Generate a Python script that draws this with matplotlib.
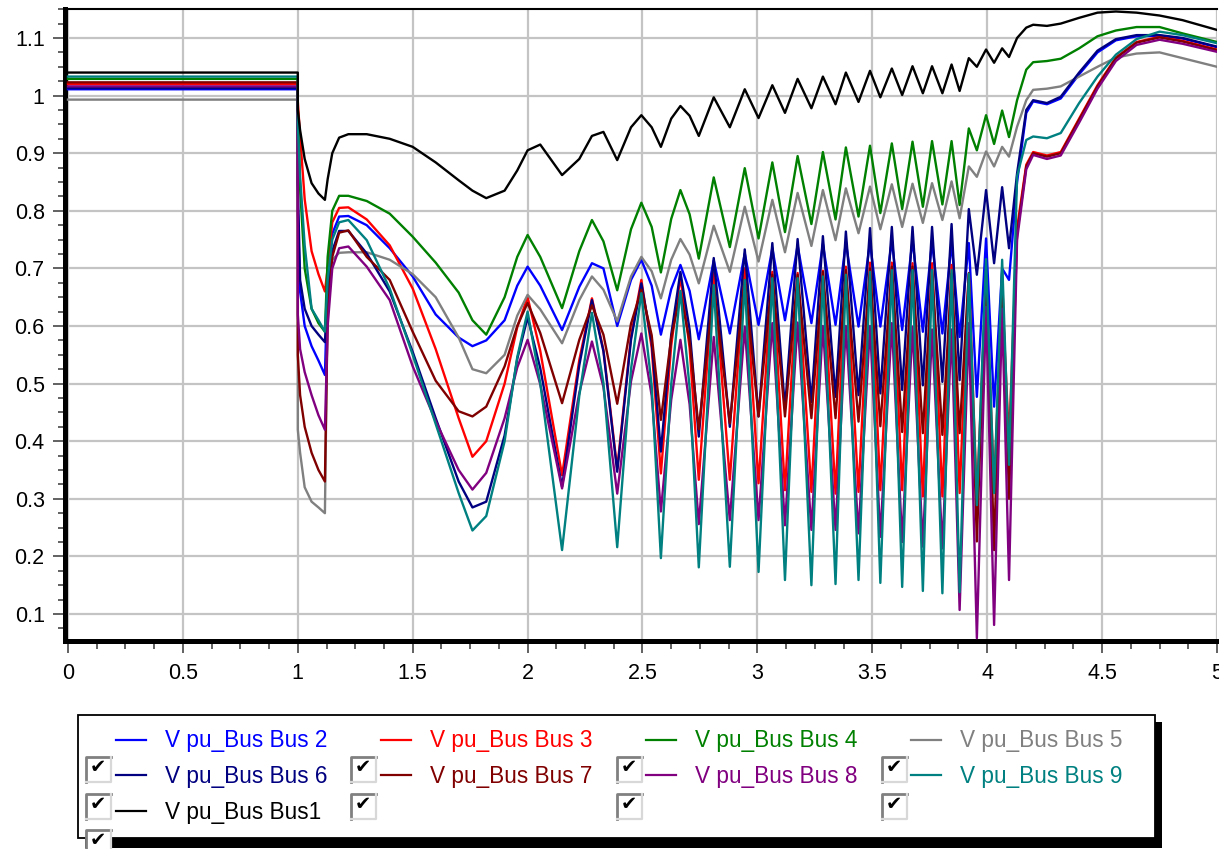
import matplotlib
matplotlib.use("Agg")
import matplotlib.pyplot as plt
from matplotlib.ticker import MultipleLocator, FormatStrFormatter
from matplotlib.patches import Rectangle
from matplotlib.lines import Line2D

# ---------------------------------------------------------------------------
# Bus voltage magnitudes (p.u.) versus time (s)
# ---------------------------------------------------------------------------
t_pre = [0.0, 1.0]
t_fault = [1.0, 1.01, 1.03, 1.06, 1.09, 1.118]
t_post = [1.13, 1.15, 1.18, 1.22, 1.3, 1.4, 1.5, 1.6, 1.7, 1.76, 1.82, 1.9]
# first, slower swings (with shoulders around each maximum)
t_early = [1.955, 2.0, 2.055, 2.15, 2.225, 2.28, 2.33, 2.39,
           2.45, 2.495, 2.54, 2.58, 2.625, 2.665, 2.705, 2.745]
# alternating swing maxima / minima
t_swing = [2.81, 2.88, 2.945, 3.005, 3.065, 3.12, 3.175, 3.235, 3.285, 3.34,
           3.385, 3.44, 3.49, 3.535, 3.585, 3.63, 3.675, 3.72, 3.76, 3.805,
           3.845, 3.88, 3.92, 3.955, 3.995, 4.03, 4.065, 4.095]
t_end = [4.13, 4.17, 4.2, 4.26, 4.32, 4.4, 4.48, 4.56, 4.65, 4.75, 4.85, 5.0]
time = t_pre + t_fault + t_post + t_early + t_swing + t_end

v_bus2 = ([1.011, 1.011]
          + [0.80, 0.66, 0.60, 0.565, 0.54, 0.515]
          + [0.68, 0.76, 0.79, 0.791, 0.775, 0.735, 0.686, 0.62, 0.58, 0.565, 0.575, 0.61]
          + [0.67, 0.703, 0.67, 0.593, 0.668, 0.709, 0.70, 0.60,
             0.68, 0.715, 0.67, 0.585, 0.664, 0.706, 0.661, 0.577]
          + [0.714, 0.587, 0.726, 0.602, 0.735, 0.61, 0.74, 0.605, 0.742, 0.602,
             0.745, 0.599, 0.745, 0.599, 0.748, 0.593, 0.749, 0.59, 0.746, 0.587,
             0.744, 0.581, 0.744, 0.477, 0.752, 0.46, 0.70, 0.68]
          + [0.85, 0.97, 0.99, 0.985, 0.995, 1.037, 1.075, 1.096, 1.103, 1.104, 1.099, 1.084])

v_bus3 = ([1.02, 1.02]
          + [0.99, 0.93, 0.82, 0.73, 0.69, 0.66]
          + [0.70, 0.78, 0.805, 0.806, 0.785, 0.74, 0.665, 0.56, 0.44, 0.373, 0.40, 0.50]
          + [0.598, 0.65, 0.557, 0.341, 0.541, 0.648, 0.559, 0.352,
             0.582, 0.68, 0.562, 0.344, 0.566, 0.686, 0.562, 0.333]
          + [0.692, 0.333, 0.70, 0.327, 0.694, 0.315, 0.692, 0.312, 0.696, 0.309,
             0.703, 0.312, 0.71, 0.315, 0.71, 0.315, 0.709, 0.304, 0.709, 0.304,
             0.706, 0.31, 0.69, 0.30, 0.68, 0.32, 0.66, 0.40]
          + [0.77, 0.88, 0.902, 0.896, 0.902, 0.96, 1.018, 1.066, 1.093, 1.102, 1.095, 1.08])

v_bus4 = ([1.029, 1.029]
          + [0.98, 0.84, 0.70, 0.63, 0.605, 0.59]
          + [0.72, 0.80, 0.826, 0.826, 0.817, 0.795, 0.755, 0.71, 0.658, 0.61, 0.585, 0.65]
          + [0.72, 0.758, 0.72, 0.631, 0.73, 0.784, 0.747, 0.662,
             0.768, 0.814, 0.772, 0.693, 0.786, 0.836, 0.794, 0.717]
          + [0.858, 0.737, 0.874, 0.752, 0.884, 0.763, 0.895, 0.777, 0.902, 0.785,
             0.91, 0.79, 0.913, 0.796, 0.917, 0.803, 0.92, 0.807, 0.921, 0.811,
             0.921, 0.81, 0.943, 0.905, 0.966, 0.916, 0.974, 0.928]
          + [0.992, 1.045, 1.058, 1.06, 1.064, 1.082, 1.103, 1.113, 1.119, 1.119, 1.108, 1.093])

v_bus5 = ([0.993, 0.993]
          + [0.42, 0.38, 0.32, 0.295, 0.285, 0.275]
          + [0.65, 0.715, 0.727, 0.728, 0.728, 0.715, 0.69, 0.65, 0.58, 0.525, 0.518, 0.55]
          + [0.618, 0.654, 0.629, 0.57, 0.645, 0.686, 0.663, 0.608,
             0.686, 0.72, 0.695, 0.648, 0.715, 0.751, 0.724, 0.674]
          + [0.774, 0.694, 0.807, 0.712, 0.819, 0.728, 0.831, 0.739, 0.836, 0.749,
             0.839, 0.761, 0.842, 0.768, 0.846, 0.772, 0.847, 0.779, 0.848, 0.784,
             0.851, 0.787, 0.877, 0.859, 0.903, 0.877, 0.911, 0.894]
          + [0.946, 0.992, 1.01, 1.012, 1.016, 1.033, 1.05, 1.066, 1.073, 1.075, 1.065, 1.05])

v_bus6 = ([1.013, 1.013]
          + [0.85, 0.68, 0.63, 0.60, 0.585, 0.572]
          + [0.66, 0.73, 0.765, 0.765, 0.726, 0.66, 0.555, 0.44, 0.33, 0.285, 0.295, 0.41]
          + [0.543, 0.615, 0.527, 0.321, 0.532, 0.645, 0.556, 0.347,
             0.576, 0.674, 0.572, 0.382, 0.585, 0.694, 0.594, 0.408]
          + [0.718, 0.425, 0.733, 0.443, 0.744, 0.457, 0.751, 0.468, 0.756, 0.477,
             0.764, 0.48, 0.77, 0.483, 0.772, 0.489, 0.772, 0.497, 0.772, 0.503,
             0.777, 0.506, 0.803, 0.689, 0.836, 0.709, 0.841, 0.735]
          + [0.865, 0.975, 0.992, 0.987, 0.998, 1.04, 1.078, 1.098, 1.105, 1.105, 1.10, 1.085])

v_bus7 = ([1.023, 1.023]
          + [0.55, 0.48, 0.425, 0.38, 0.35, 0.33]
          + [0.62, 0.72, 0.762, 0.766, 0.72, 0.68, 0.59, 0.505, 0.452, 0.443, 0.46, 0.53]
          + [0.60, 0.64, 0.588, 0.466, 0.576, 0.636, 0.585, 0.465,
             0.604, 0.663, 0.584, 0.437, 0.58, 0.657, 0.574, 0.421]
          + [0.668, 0.431, 0.68, 0.443, 0.689, 0.443, 0.689, 0.44, 0.694, 0.44,
             0.697, 0.434, 0.70, 0.426, 0.703, 0.416, 0.703, 0.414, 0.697, 0.411,
             0.691, 0.414, 0.692, 0.226, 0.686, 0.211, 0.692, 0.30]
          + [0.76, 0.877, 0.90, 0.894, 0.90, 0.958, 1.016, 1.065, 1.092, 1.101, 1.094, 1.079])

v_bus8 = ([1.016, 1.016]
          + [0.62, 0.56, 0.52, 0.48, 0.445, 0.42]
          + [0.60, 0.70, 0.735, 0.738, 0.703, 0.645, 0.53, 0.435, 0.35, 0.316, 0.345, 0.44]
          + [0.528, 0.576, 0.499, 0.318, 0.484, 0.573, 0.494, 0.309,
             0.504, 0.587, 0.479, 0.278, 0.472, 0.576, 0.464, 0.256]
          + [0.581, 0.263, 0.599, 0.263, 0.605, 0.254, 0.606, 0.246, 0.60, 0.246,
             0.60, 0.24, 0.60, 0.234, 0.605, 0.225, 0.599, 0.217, 0.594, 0.214,
             0.594, 0.107, 0.605, 0.058, 0.633, 0.081, 0.63, 0.159]
          + [0.75, 0.872, 0.897, 0.89, 0.896, 0.953, 1.012, 1.06, 1.088, 1.097, 1.09, 1.076])

v_bus9 = ([1.033, 1.033]
          + [0.95, 0.86, 0.74, 0.63, 0.61, 0.59]
          + [0.68, 0.75, 0.78, 0.784, 0.749, 0.665, 0.55, 0.43, 0.31, 0.245, 0.27, 0.40]
          + [0.546, 0.625, 0.501, 0.211, 0.479, 0.623, 0.501, 0.216,
             0.525, 0.657, 0.496, 0.197, 0.499, 0.661, 0.493, 0.181]
          + [0.671, 0.182, 0.68, 0.173, 0.683, 0.159, 0.683, 0.15, 0.686, 0.152,
             0.689, 0.159, 0.694, 0.154, 0.697, 0.147, 0.697, 0.14, 0.697, 0.136,
             0.697, 0.138, 0.691, 0.289, 0.716, 0.31, 0.715, 0.359]
          + [0.86, 0.923, 0.929, 0.926, 0.935, 0.987, 1.033, 1.071, 1.098, 1.111, 1.105, 1.091])

v_bus1 = ([1.04, 1.04]
          + [0.975, 0.94, 0.89, 0.848, 0.83, 0.819]
          + [0.855, 0.90, 0.927, 0.933, 0.933, 0.925, 0.911, 0.884, 0.853, 0.835, 0.822, 0.835]
          + [0.87, 0.905, 0.915, 0.862, 0.89, 0.93, 0.937, 0.888,
             0.945, 0.966, 0.945, 0.911, 0.96, 0.982, 0.965, 0.93]
          + [0.997, 0.945, 1.011, 0.961, 1.018, 0.97, 1.029, 0.978, 1.033, 0.985,
             1.04, 0.989, 1.043, 0.997, 1.047, 1.001, 1.051, 1.004, 1.051, 1.004,
             1.054, 1.008, 1.065, 1.05, 1.08, 1.057, 1.082, 1.067]
          + [1.10, 1.118, 1.123, 1.121, 1.125, 1.135, 1.144, 1.146, 1.144, 1.139, 1.131, 1.114])

labels = ["V pu_Bus Bus 2", "V pu_Bus Bus 3", "V pu_Bus Bus 4", "V pu_Bus Bus 5",
          "V pu_Bus Bus 6", "V pu_Bus Bus 7", "V pu_Bus Bus 8", "V pu_Bus Bus 9",
          "V pu_Bus Bus1"]
series = [v_bus2, v_bus3, v_bus4, v_bus5, v_bus6, v_bus7, v_bus8, v_bus9, v_bus1]
colors = ["#0000FF", "#FF0000", "#008000", "#808080", "#000080",
          "#800000", "#800080", "#008080", "#000000"]

# ---------------------------------------------------------------------------
W, H = 1219, 849
plt.rcParams["font.family"] = ["Liberation Sans", "DejaVu Sans"]
fig = plt.figure(figsize=(W / 100, H / 100), dpi=100)
fig.patch.set_facecolor("white")

ax_l, ax_r, ax_t, ax_b = 64.5, 1217.0, 8.5, 640.5
ax = fig.add_axes([ax_l / W, (H - ax_b) / H, (ax_r - ax_l) / W, (ax_b - ax_t) / H])

for vals, col in zip(series, colors):
    ax.plot(time, vals, color=col, lw=1.7, zorder=3)

ax.set_xlim(-0.0152, 5.0)
ax.set_ylim(0.054, 1.1512)

ax.xaxis.set_major_locator(MultipleLocator(0.5))
ax.xaxis.set_minor_locator(MultipleLocator(0.125))
ax.yaxis.set_minor_locator(MultipleLocator(0.025))
ax.xaxis.set_major_formatter(FormatStrFormatter("%g"))
ax.yaxis.set_major_formatter(FormatStrFormatter("%g"))
ax.set_yticks([0.1 * k for k in range(1, 12)])

ax.grid(True, which="major", color="#C4C4C4", lw=1.6, zorder=0)
ax.set_axisbelow(True)

ax.spines["right"].set_visible(False)
ax.spines["top"].set_linewidth(1.5)
ax.spines["left"].set_linewidth(3.6)
ax.spines["bottom"].set_linewidth(3.6)

ax.tick_params(axis="both", which="major", direction="out", length=8.3,
               width=1.3, color="#555555", labelsize=15.5, pad=6)
ax.tick_params(axis="both", which="minor", direction="out", length=5.4,
               width=1.3, color="#555555")
ax.tick_params(axis="x", which="major", pad=8)

# ---------------------------------------------------------------------------
# legend panel with selection check boxes
ov = fig.add_axes([0, 0, 1, 1], zorder=5)
ov.set_xlim(0, W)
ov.set_ylim(H, 0)
ov.axis("off")

box_x0, box_y0, box_x1, box_y1 = 78, 715, 1155, 838
ov.add_patch(Rectangle((box_x0 + 7, box_y0 + 7), box_x1 - box_x0, box_y1 - box_y0 + 3,
                       facecolor="black", edgecolor="none", zorder=1))
ov.add_patch(Rectangle((box_x0, box_y0), box_x1 - box_x0, box_y1 - box_y0,
                       facecolor="white", edgecolor="black", lw=1.3, zorder=2))

col_x = [116, 381, 646, 911]
row_y = [740, 775, 811]
for i, (lab, col) in enumerate(zip(labels, colors)):
    r, c = divmod(i, 4)
    x0, y0 = col_x[c], row_y[r]
    ov.add_line(Line2D([x0, x0 + 30], [y0, y0], color=col, lw=1.6, zorder=3))
    ov.text(x0 + 49, y0 + 1, lab, color=col, fontsize=16.3, va="center", ha="left",
            zorder=3)

cb_x = [86, 351, 617, 882]
cb_rows = [[757, 794, 830], [757, 794], [757, 794], [757, 794]]
cb = 25
for cx, rows in zip(cb_x, cb_rows):
    for cy in rows:
        ov.add_patch(Rectangle((cx, cy), cb, cb, facecolor="white",
                               edgecolor="none", zorder=4))
        ov.add_line(Line2D([cx, cx, cx + cb], [cy + cb, cy, cy],
                           color="#808080", lw=2.0, zorder=5))
        ov.add_line(Line2D([cx, cx + cb, cx + cb], [cy + cb, cy + cb, cy],
                           color="#D8D8D8", lw=1.6, zorder=5))
        ov.text(cx + 11.5, cy + 10.5, "\u2714", fontsize=14, family="DejaVu Sans",
                color="black", ha="center", va="center", zorder=6)

fig.savefig("out.png", dpi=100, facecolor="white")
